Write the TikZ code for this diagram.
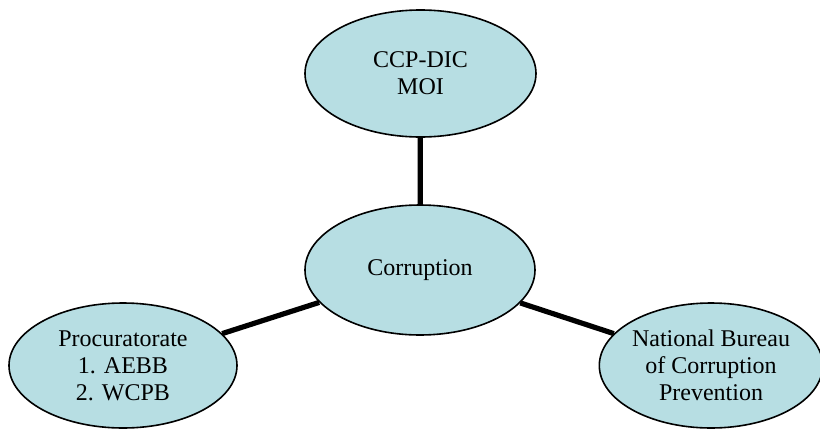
\documentclass[tikz,border=0pt]{standalone}
\usepackage{fontspec}
\setmainfont{Liberation Serif}
\usetikzlibrary{shapes.geometric}

\definecolor{bubbleblue}{RGB}{183,222,227}

\begin{document}
\begin{tikzpicture}[x=0.5pt, y=-0.5pt,
  bubble/.style={draw, ellipse, fill=bubbleblue, line width=0.8pt, inner sep=0pt,
    align=center, font=\fontsize{12}{13.5}\selectfont},
  link/.style={line width=2.6pt}]
\useasboundingbox (0,0) rectangle (820,429);

\node[bubble, minimum width=115.5pt, minimum height=63.5pt] (dic) at (420.5, 73.5) {CCP-DIC\\MOI};
\node[bubble, minimum width=115pt, minimum height=65pt] (corr) at (420, 270) {Corruption};
\node[bubble, minimum width=114pt, minimum height=62.5pt] (proc) at (123, 365.5) {Procuratorate\\1. AEBB\\2. WCPB};
\node[bubble, minimum width=108pt, minimum height=62.5pt] (nbcp) at (711, 365.5) {National Bureau\\of Corruption\\Prevention};

\draw[link] (dic) -- (corr);
\draw[link] (corr) -- (proc);
\draw[link] (corr) -- (nbcp);

\end{tikzpicture}
\end{document}
